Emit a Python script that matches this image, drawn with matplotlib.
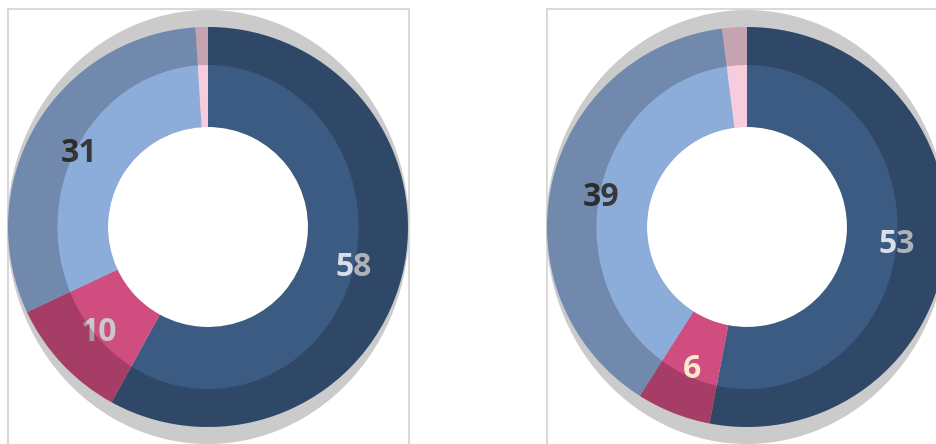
import numpy as np
import matplotlib
matplotlib.use('Agg')
import matplotlib.pyplot as plt
from matplotlib.patches import Ellipse, Rectangle, Circle, PathPatch
from matplotlib.path import Path

# data
left_values = [58, 10, 31, 1]
right_values = [53, 6, 39, 2]
slice_colors = ['#3B5B83', '#D04D80', '#8CACD9', '#F7CCDD']
left_label_colors = ['#D9DFE8', '#C9C9C9', '#383838', '#383838']
right_label_colors = ['#D9DFE8', '#FCE8CC', '#383838', '#383838']

W, H = 937, 444
R_OUT, R_IN = 200, 100

fig = plt.figure(figsize=(W / 100, H / 100), dpi=100)
ax = fig.add_axes([0, 0, 1, 1])


def band_path(cx, cy, r, ea, eb):
    # ring between outer circle and an inner ellipse (bevel look)
    t = np.linspace(0, 2 * np.pi, 361)
    outer = np.column_stack([cx + r * np.cos(t), cy + r * np.sin(t)])
    inner = np.column_stack([cx + ea * np.cos(t[::-1]), cy + eb * np.sin(t[::-1])])
    verts = np.vstack([outer, inner])
    codes = np.full(len(verts), Path.LINETO)
    codes[0] = Path.MOVETO
    codes[len(outer)] = Path.MOVETO
    return Path(verts, codes)


def donut(ax, values, label_colors, cx, cy):
    # soft grey shadow behind the ring
    ax.add_patch(Ellipse((cx, cy), 402, 434, facecolor='#CBCBCB',
                         edgecolor='none', zorder=0.5))
    ax.add_patch(Circle((cx, cy), R_IN, facecolor='white', edgecolor='none', zorder=0.8))
    wedges, _, autotexts = ax.pie(
        values, colors=slice_colors, radius=R_OUT, center=(cx, cy),
        startangle=90, counterclock=False,
        wedgeprops=dict(width=R_OUT - R_IN, edgecolor='none'),
        autopct=lambda p: f'{p:.0f}' if p >= 3 else '',
        pctdistance=0.75,
    )
    for t, c in zip(autotexts, label_colors):
        t.set_color(c)
        t.set_fontsize(23)
        t.set_fontweight('bold')
        t.set_family('Open Sans')
        t.set_y(t.get_position()[1] - 3)
    # darker outer band drawn on top of everything (also over labels)
    ax.add_patch(PathPatch(band_path(cx, cy, R_OUT, 150.5, 162),
                           facecolor='black', alpha=0.2, edgecolor='none', zorder=4))


# panel frames
ax.add_patch(Rectangle((8, -20), 401, H - 9 + 20, fill=False,
                       edgecolor='#D9D9D9', linewidth=1.5, zorder=0.2))
ax.add_patch(Rectangle((547, -20), 500, H - 9 + 20, fill=False,
                       edgecolor='#D9D9D9', linewidth=1.5, zorder=0.2))

donut(ax, left_values, left_label_colors, 208, H - 227)
donut(ax, right_values, right_label_colors, 747, H - 227)

ax.set_xlim(0, W)
ax.set_ylim(0, H)
ax.set_aspect('auto')
ax.axis('off')

plt.savefig('out.png', dpi=100)
plt.close()
